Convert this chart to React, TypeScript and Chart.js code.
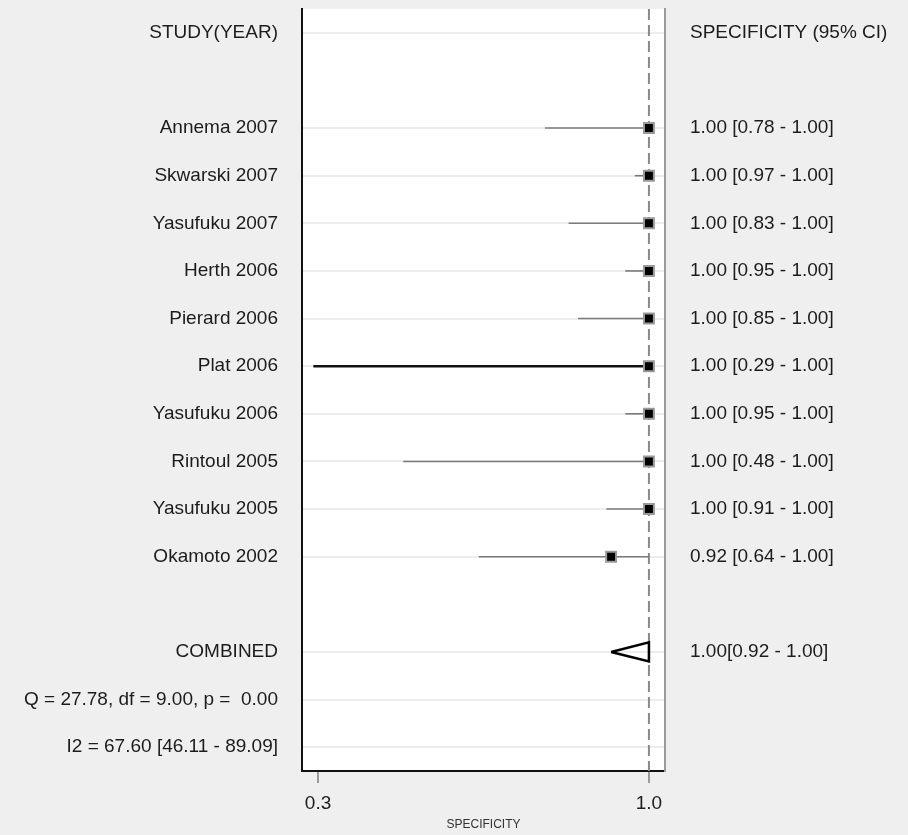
import React, { useEffect, useRef } from 'react';
import { Chart, registerables } from 'chart.js';

Chart.register(...registerables);

// ---------- data ----------
const STUDIES = [
  'Annema 2007',
  'Skwarski 2007',
  'Yasufuku 2007',
  'Herth 2006',
  'Pierard 2006',
  'Plat 2006',
  'Yasufuku 2006',
  'Rintoul 2005',
  'Yasufuku 2005',
  'Okamoto 2002',
];
const SPECIFICITY = [1.0, 1.0, 1.0, 1.0, 1.0, 1.0, 1.0, 1.0, 1.0, 0.92];
const CI_LOW = [0.78, 0.97, 0.83, 0.95, 0.85, 0.29, 0.95, 0.48, 0.91, 0.64];
const CI_HIGH = [1.0, 1.0, 1.0, 1.0, 1.0, 1.0, 1.0, 1.0, 1.0, 1.0];
const POOLED = 1.0;
const POOLED_LOW = 0.92;
const POOLED_HIGH = 1.0;
const STATS_LINES = ['Q = 27.78, df = 9.00, p =  0.00', 'I2 = 67.60 [46.11 - 89.09]'];
const X_TICKS = [0.3, 1.0];
const REFERENCE_X = 1.0;
const HEADER_LEFT = 'STUDY(YEAR)';
const HEADER_RIGHT = 'SPECIFICITY (95% CI)';
const COMBINED_LABEL = 'COMBINED';
const AXIS_TITLE = 'SPECIFICITY';

// ---------- row layout ----------
const FIRST_STUDY_ROW = 2;
const COMBINED_ROW = FIRST_STUDY_ROW + STUDIES.length + 1;
const N_ROWS = COMBINED_ROW + 1 + STATS_LINES.length;

const leftLabels: string[] = Array(N_ROWS).fill('');
const rightLabels: string[] = Array(N_ROWS).fill('');
leftLabels[0] = HEADER_LEFT;
rightLabels[0] = HEADER_RIGHT;
STUDIES.forEach((s, i) => {
  leftLabels[FIRST_STUDY_ROW + i] = s;
  rightLabels[FIRST_STUDY_ROW + i] = `${SPECIFICITY[i].toFixed(2)} [${CI_LOW[i].toFixed(2)} - ${CI_HIGH[i].toFixed(2)}]`;
});
leftLabels[COMBINED_ROW] = COMBINED_LABEL;
rightLabels[COMBINED_ROW] = `${POOLED.toFixed(2)}[${POOLED_LOW.toFixed(2)} - ${POOLED_HIGH.toFixed(2)}]`;
STATS_LINES.forEach((s, i) => {
  leftLabels[COMBINED_ROW + 1 + i] = s;
});

const TEXT = '#1c1c1c';
const FONT = "'Liberation Sans', Arial, sans-serif";

const rowTicks = (scale: any) => {
  scale.ticks = leftLabels.map((_, i) => ({ value: i }));
};

export default function App() {
  const ref = useRef<HTMLCanvasElement | null>(null);

  useEffect(() => {
    if (!ref.current) return;
    Chart.defaults.font.family = FONT;

    const datasets: any[] = [];

    // study point estimates (on top)
    datasets.push({
      label: 'points',
      data: STUDIES.map((_, i) => ({ x: SPECIFICITY[i], y: FIRST_STUDY_ROW + i })),
      pointStyle: 'rect',
      pointRadius: 7,
      backgroundColor: '#000',
      borderColor: '#9a9a9a',
      borderWidth: 2,
      showLine: false,
    });

    // pooled estimate triangle
    datasets.push({
      label: 'combined',
      data: [
        { x: POOLED_LOW, y: COMBINED_ROW },
        { x: POOLED_HIGH, y: COMBINED_ROW - 0.2 },
        { x: POOLED_HIGH, y: COMBINED_ROW + 0.2 },
        { x: POOLED_LOW, y: COMBINED_ROW },
      ],
      showLine: true,
      borderColor: '#000',
      borderWidth: 2.5,
      pointRadius: 0,
      fill: false,
      tension: 0,
    });

    // confidence intervals
    STUDIES.forEach((s, i) => {
      const wide = CI_LOW[i] < 0.4;
      datasets.push({
        label: s,
        data: [
          { x: CI_LOW[i], y: FIRST_STUDY_ROW + i },
          { x: CI_HIGH[i], y: FIRST_STUDY_ROW + i },
        ],
        showLine: true,
        borderColor: wide ? '#111' : '#7a7a7a',
        borderWidth: wide ? 2.5 : 1.6,
        pointRadius: 0,
      });
    });

    // reference dashed line
    datasets.push({
      label: 'ref',
      data: [
        { x: REFERENCE_X, y: -0.5 },
        { x: REFERENCE_X, y: N_ROWS - 0.5 },
      ],
      showLine: true,
      borderColor: '#8a8a8a',
      borderWidth: 2,
      borderDash: [11, 5],
      pointRadius: 0,
    });

    const bgPlugin = {
      id: 'areaBg',
      beforeDraw(chart: any) {
        const { ctx, chartArea } = chart;
        ctx.save();
        ctx.fillStyle = '#ffffff';
        ctx.fillRect(chartArea.left, chartArea.top, chartArea.right - chartArea.left, chartArea.bottom - chartArea.top);
        ctx.restore();
      },
    };

    const fitVertical = (w: number) => (scale: any) => {
      scale.width = w;
      scale.paddingTop = 0;
      scale.paddingBottom = 0;
    };

    const chart = new Chart(ref.current, {
      type: 'scatter',
      data: { datasets },
      plugins: [bgPlugin],
      options: {
        responsive: false,
        animation: false,
        events: [],
        layout: { padding: { top: 8, left: 0, right: 0, bottom: 0 } },
        plugins: { legend: { display: false }, tooltip: { enabled: false } },
        scales: {
          x: {
            type: 'linear',
            position: 'bottom',
            min: 0.266,
            max: 1.034,
            afterBuildTicks: (scale: any) => {
              scale.ticks = X_TICKS.map((v) => ({ value: v }));
            },
            afterFit: (scale: any) => {
              scale.height = 64;
              scale.paddingLeft = 0;
              scale.paddingRight = 0;
            },
            grid: {
              drawOnChartArea: false,
              drawTicks: true,
              tickLength: 12,
              color: '#9a9a9a',
              lineWidth: 2,
            },
            border: { display: true, color: '#111', width: 2 },
            ticks: {
              autoSkip: false,
              maxRotation: 0,
              padding: 9,
              color: TEXT,
              font: { size: 19, family: FONT },
              callback: (v: any) => Number(v).toFixed(1),
            },
            title: {
              display: true,
              text: AXIS_TITLE,
              color: '#333',
              font: { size: 12, family: FONT },
              padding: { top: 0, bottom: 3 },
            },
          },
          y: {
            type: 'linear',
            position: 'left',
            reverse: true,
            min: -0.5,
            max: N_ROWS - 0.5,
            afterBuildTicks: rowTicks,
            afterFit: fitVertical(302),
            grid: {
              drawTicks: false,
              lineWidth: 2,
              color: (ctx: any) => {
                const v = ctx.tick ? ctx.tick.value : -1;
                return leftLabels[v] || rightLabels[v] ? '#ededed' : 'rgba(0,0,0,0)';
              },
            },
            border: { display: true, color: '#111', width: 2 },
            ticks: {
              autoSkip: false,
              padding: 24,
              color: TEXT,
              font: { size: 19, family: FONT },
              callback: (v: any) => leftLabels[v] ?? '',
            },
          },
          y2: {
            type: 'linear',
            display: true,
            position: 'right',
            reverse: true,
            min: -0.5,
            max: N_ROWS - 0.5,
            afterBuildTicks: rowTicks,
            afterFit: fitVertical(243),
            grid: { drawOnChartArea: false, drawTicks: false },
            border: { display: true, color: '#9a9a9a', width: 2 },
            ticks: {
              autoSkip: false,
              padding: 25,
              color: TEXT,
              font: { size: 19, family: FONT },
              callback: (v: any) => rightLabels[v] ?? '',
            },
          },
        },
      } as any,
    });

    return () => chart.destroy();
  }, []);

  return (
    <div
      style={{
        position: 'fixed',
        top: 0,
        left: 0,
        width: 908,
        height: 835,
        background: '#efefef',
        overflow: 'hidden',
      }}
    >
      <canvas ref={ref} width={908} height={835} style={{ display: 'block' }} />
    </div>
  );
}
